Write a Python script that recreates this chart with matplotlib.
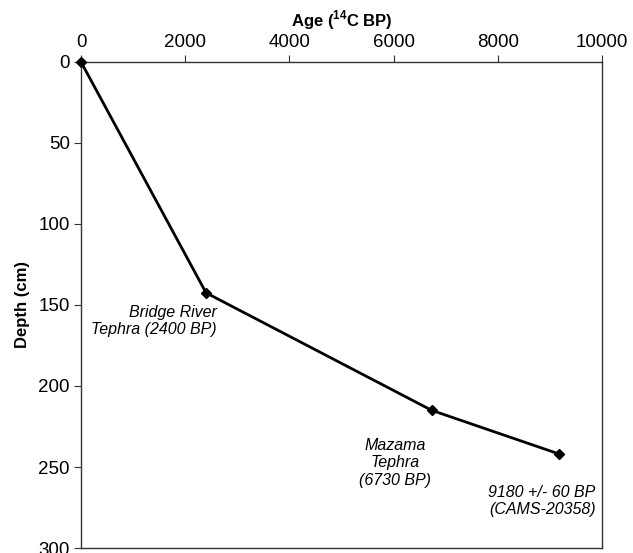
import matplotlib
matplotlib.use('Agg')
import matplotlib.pyplot as plt

# age-depth model points
ages = [0, 2400, 6730, 9180]
depths = [0, 142.5, 215, 242]

labels = ['Bridge River\nTephra (2400 BP)', 'Mazama\nTephra\n(6730 BP)', '9180 +/- 60 BP\n(CAMS-20358)']
label_ages = [2400, 6730, 9180]
label_depths = [142.5, 215, 242]

xticks = [0, 2000, 4000, 6000, 8000, 10000]
yticks = [0, 50, 100, 150, 200, 250, 300]

plt.rcParams['font.family'] = ['Liberation Sans', 'DejaVu Sans']
plt.rcParams['mathtext.fontset'] = 'custom'
plt.rcParams['mathtext.rm'] = 'Liberation Sans:bold'

fig = plt.figure(figsize=(6.33, 5.53), dpi=100)
ax = fig.add_axes([0.128, 0.009, 0.823, 0.879])

ax.plot(ages, depths, color='black', lw=2.0, marker='D', ms=5, mfc='black', mec='black', clip_on=False, zorder=3)

ax.set_xlim(0, 10000)
ax.set_ylim(300, 0)
ax.set_xticks(xticks)
ax.set_yticks(yticks)
ax.xaxis.tick_top()
ax.xaxis.set_label_position('top')
ax.tick_params(labelsize=13.5, length=5, width=0.8, color='#333333', pad=3)

for s in ax.spines.values():
    s.set_linewidth(1.0)
    s.set_color('#333333')

ax.set_xlabel(r'Age ($^{14}$C BP)', fontsize=12, fontweight='bold', labelpad=5)
ax.set_ylabel('Depth (cm)', fontsize=12, fontweight='bold', labelpad=6)

# annotations (offset from each point, in data units)
offs = [(200, 7.5, 'right'), (-700, 17, 'center'), (700, 19, 'right')]
for (lab, a, d, (dx, dy, ha)) in zip(labels, label_ages, label_depths, offs):
    ax.text(a + dx, d + dy, lab, fontsize=11.5, style='italic', ha=ha, va='top', linespacing=1.2)

fig.savefig('out.png', dpi=100)
